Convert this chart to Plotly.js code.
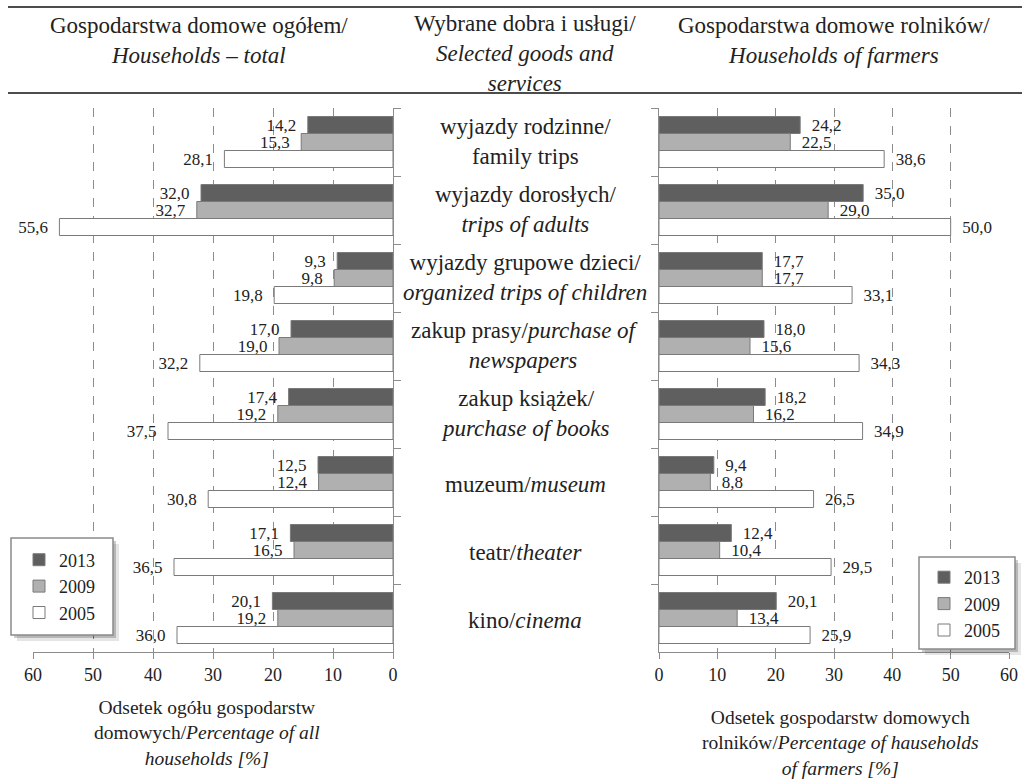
<!DOCTYPE html>
<html><head><meta charset="utf-8">
<script src="https://cdn.plot.ly/plotly-3.0.1.min.js"></script>
<style>html,body{margin:0;padding:0;background:#fff}#chart{width:1022px;height:781px}</style>
</head><body><div id="chart"></div>
<script>
// ---- data ----
const categories = ["wyjazdy rodzinne", "wyjazdy dorosłych", "wyjazdy grupowe dzieci", "zakup prasy", "zakup książek", "muzeum", "teatr", "kino"];
const categoryLabels = [
  "wyjazdy rodzinne/<br>family trips",
  "wyjazdy dorosłych/<br><i>trips of adults</i>",
  "wyjazdy grupowe dzieci/<br><i>organized trips of children</i>",
  "zakup prasy/<i>purchase of</i><br><i>newspapers</i>",
  "zakup książek/<br><i>purchase of books</i>",
  "muzeum/<i>museum</i>",
  "teatr/<i>theater</i>",
  "kino/<i>cinema</i>"
];
const years = ["2013", "2009", "2005"];
const total2013 = [14.2, 32.0, 9.3, 17.0, 17.4, 12.5, 17.1, 20.1];
const total2009 = [15.3, 32.7, 9.8, 19.0, 19.2, 12.4, 16.5, 19.2];
const total2005 = [28.1, 55.6, 19.8, 32.2, 37.5, 30.8, 36.5, 36.0];
const farmers2013 = [24.2, 35.0, 17.7, 18.0, 18.2, 9.4, 12.4, 20.1];
const farmers2009 = [22.5, 29.0, 17.7, 15.6, 16.2, 8.8, 10.4, 13.4];
const farmers2005 = [38.6, 50.0, 33.1, 34.3, 34.9, 26.5, 29.5, 25.9];
const xTicks = [0, 10, 20, 30, 40, 50, 60];
const headerLeft = "Gospodarstwa domowe ogółem/<br><i>Households – total</i>";
const headerMid = "Wybrane dobra i usługi/<br><i>Selected goods and</i><br><i>services</i>";
const headerRight = "Gospodarstwa domowe rolników/<br><i>Households of farmers</i>";
const axisTitleLeft = "Odsetek ogółu gospodarstw<br>domowych/<i>Percentage of all</i><br><i>households [%]</i>";
const axisTitleRight = "Odsetek gospodarstw domowych<br>rolników/<i>Percentage of hauseholds</i><br><i>of farmers [%]</i>";

// ---- styling ----
const W = 1022, H = 781;
const FONT = "'Liberation Serif', 'Times New Roman', Times, serif";
const TXT = "#222";
const colors = {"2013": "#5f5f5f", "2009": "#b0b0b0", "2005": "#ffffff"};
const px = v => v / W;
const py = v => 1 - v / H;

function barTrace(values, year, side) {
  const left = side === "L";
  return {
    type: "bar", orientation: "h",
    x: values, y: categories,
    name: year,
    xaxis: left ? "x" : "x2", yaxis: left ? "y" : "y2",
    legend: left ? "legend" : "legend2",
    legendgroup: side + year,
    marker: {color: colors[year], line: {color: "#7a7a7a", width: 1}},
    texttemplate: left ? "%{x:.1f}\u00a0\u00a0" : "\u00a0\u00a0%{x:.1f}",
    textposition: "outside",
    constraintext: "none",
    cliponaxis: false,
    textfont: {family: FONT, size: 17, color: TXT},
    hoverinfo: "x+y+name"
  };
}

const data = [
  barTrace(total2013, years[0], "L"),
  barTrace(total2009, years[1], "L"),
  barTrace(total2005, years[2], "L"),
  barTrace(farmers2013, years[0], "R"),
  barTrace(farmers2009, years[1], "R"),
  barTrace(farmers2005, years[2], "R")
];

const xCommon = {
  tickvals: xTicks, ticktext: xTicks.map(String),
  showgrid: true, gridcolor: "#8c8c8c", griddash: "dash", gridwidth: 1,
  zeroline: false, showline: true, linecolor: "#8c8c8c", linewidth: 1.2,
  ticks: "outside", ticklen: 6, tickcolor: "#8c8c8c",
  tickfont: {family: FONT, size: 18, color: TXT}, fixedrange: true
};
const yCommon = {
  type: "category", autorange: "reversed",
  domain: [py(652), py(108)],
  showticklabels: false, showgrid: false, zeroline: false,
  showline: true, linecolor: "#8c8c8c", linewidth: 1.2,
  ticks: "outside", tickson: "boundaries", ticklen: 7, tickcolor: "#8c8c8c",
  fixedrange: true
};

const annotations = [];
function ann(text, x, y, size, extra) {
  annotations.push(Object.assign({
    text: text, xref: "paper", yref: "paper", x: px(x), y: py(y),
    xanchor: "center", yanchor: "middle", showarrow: false, align: "center",
    font: {family: FONT, size: size, color: TXT}
  }, extra || {}));
}
ann(headerLeft, 199, 41, 23);
ann(headerMid, 525, 54, 23);
ann(headerRight, 834, 41, 23);
ann(axisTitleLeft, 207, 733, 19.5);
ann(axisTitleRight, 840, 743, 19.5);
categoryLabels.forEach((lab, i) => {
  const twoLines = lab.indexOf("<br>") >= 0;
  annotations.push({
    text: lab, xref: "paper", yref: "y", x: px(525), y: categories[i],
    xanchor: "center", yanchor: "middle", showarrow: false, align: "center",
    yshift: twoLines ? 1 : -2,
    font: {family: FONT, size: 23, color: TXT}
  });
});

function rect(x0, y0, x1, y1, fill, line) {
  return {type: "rect", xref: "paper", yref: "paper", layer: "above",
    x0: px(x0), x1: px(x1), y0: py(y1), y1: py(y0),
    fillcolor: fill, line: line || {width: 0}};
}
function legendBox(x0, y0, x1, y1) {
  return [
    rect(x0 + 6, y0 + 6, x1 + 6, y1 + 6, "rgba(0,0,0,0.10)"),
    rect(x0 + 3, y0 + 3, x1 + 3, y1 + 3, "rgba(0,0,0,0.20)"),
    rect(x0, y0, x1, y1, "#ffffff", {color: "#8a8a8a", width: 1.5})
  ];
}
const shapes = [
  {type: "line", xref: "paper", yref: "paper", x0: px(8), x1: 1, y0: py(7), y1: py(7), line: {color: "#111", width: 1.5}},
  {type: "line", xref: "paper", yref: "paper", x0: px(8), x1: 1, y0: py(93), y1: py(93), line: {color: "#111", width: 1.5}}
].concat(legendBox(11, 538, 113, 635), legendBox(919, 557, 1015, 649));

const legendCommon = {
  bgcolor: "rgba(0,0,0,0)", borderwidth: 0,
  font: {family: FONT, size: 18, color: TXT},
  tracegroupgap: 5, traceorder: "normal",
  xanchor: "left", yanchor: "middle", itemclick: false, itemdoubleclick: false
};

const layout = {
  width: W, height: H,
  margin: {l: 0, r: 0, t: 0, b: 0},
  paper_bgcolor: "#ffffff", plot_bgcolor: "#ffffff",
  font: {family: FONT, color: TXT},
  separators: ", ",
  barmode: "group", bargap: 0.25, bargroupgap: 0,
  showlegend: true,
  xaxis: Object.assign({}, xCommon, {domain: [px(33), px(393)], range: [60, 0], anchor: "y"}),
  yaxis: Object.assign({}, yCommon, {side: "right", anchor: "x"}),
  xaxis2: Object.assign({}, xCommon, {domain: [px(659), px(1009)], range: [0, 60], anchor: "y2"}),
  yaxis2: Object.assign({}, yCommon, {side: "left", anchor: "x2"}),
  legend: Object.assign({}, legendCommon, {x: px(19), y: py(586.5)}),
  legend2: Object.assign({}, legendCommon, {x: px(924), y: py(604)}),
  annotations: annotations,
  shapes: shapes
};

Plotly.newPlot("chart", data, layout, {displayModeBar: false, staticPlot: true});
</script>
</body></html>
